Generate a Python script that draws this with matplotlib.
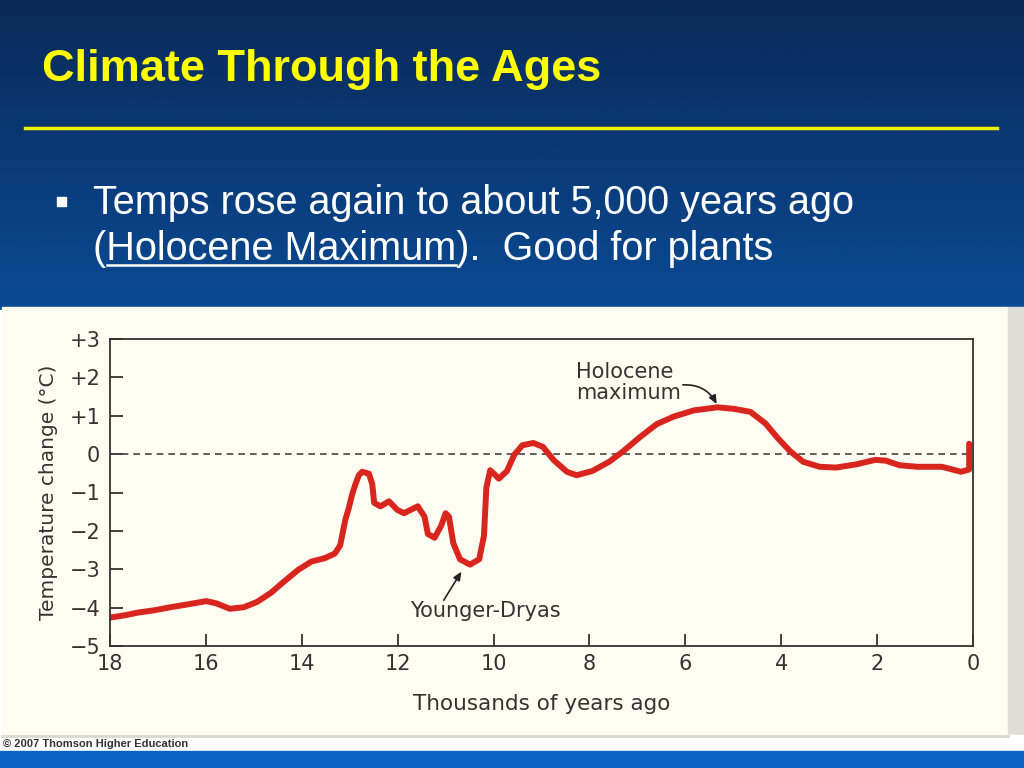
import numpy as np
import matplotlib.pyplot as plt
from matplotlib.patches import Rectangle
from matplotlib.colors import LinearSegmentedColormap

# curve (thousands of years ago, degC change)
kyr_ago = [18.00, 17.69, 17.42, 17.08, 16.74, 16.40, 15.99, 15.78, 15.50, 15.21,
           14.93, 14.64, 14.36, 14.08, 13.80, 13.52, 13.31, 13.20, 13.09, 13.02,
           12.95, 12.88, 12.81, 12.74, 12.60, 12.53, 12.49, 12.36, 12.18, 12.01,
           11.87, 11.58, 11.44, 11.37, 11.23, 11.09, 11.00, 10.93, 10.84, 10.70,
           10.49, 10.30, 10.20, 10.15, 10.07, 9.96, 9.89, 9.72, 9.57, 9.40,
           9.17, 8.97, 8.75, 8.47, 8.27, 7.94, 7.59, 7.30, 6.95, 6.60,
           6.24, 5.82, 5.33, 4.99, 4.64, 4.33, 4.06, 3.81, 3.54, 3.20,
           2.86, 2.45, 2.04, 1.82, 1.53, 1.16, 0.65, 0.43, 0.25, 0.08,
           0.08]
temp_change = [-4.26, -4.20, -4.13, -4.07, -3.99, -3.92, -3.83, -3.89, -4.03, -3.99,
               -3.85, -3.61, -3.31, -3.02, -2.80, -2.71, -2.59, -2.38, -1.70, -1.41,
               -1.05, -0.78, -0.55, -0.46, -0.51, -0.78, -1.27, -1.36, -1.23, -1.45,
               -1.54, -1.36, -1.63, -2.08, -2.18, -1.86, -1.54, -1.63, -2.32, -2.74,
               -2.88, -2.74, -2.13, -0.87, -0.42, -0.55, -0.64, -0.44, -0.02, 0.23,
               0.29, 0.19, -0.15, -0.46, -0.55, -0.44, -0.20, 0.07, 0.44, 0.78,
               0.98, 1.14, 1.22, 1.18, 1.10, 0.80, 0.40, 0.07, -0.20, -0.33,
               -0.35, -0.27, -0.15, -0.17, -0.29, -0.33, -0.33, -0.40, -0.46, -0.40,
               0.27]

xticks = [18, 16, 14, 12, 10, 8, 6, 4, 2, 0]
yticks = [-5, -4, -3, -2, -1, 0, 1, 2, 3]
ytick_labels = ['\u22125', '\u22124', '\u22123', '\u22122', '\u22121', '0', '+1', '+2', '+3']

fig = plt.figure(figsize=(10.24, 7.68), dpi=100)

# slide background, drawn in pixel units
bg = fig.add_axes([0, 0, 1, 1])
grad = np.linspace(0, 1, 256).reshape(-1, 1)
cmap = LinearSegmentedColormap.from_list('slide', ['#0a2a58', '#0a4a94'])
bg.imshow(grad, cmap=cmap, extent=[0, 1024, 310, 0], aspect='auto')
bg.set_xlim(0, 1024)
bg.set_ylim(768, 0)
bg.axis('off')

bg.text(42, 81, 'Climate Through the Ages', color='#ffff00', fontsize=32.5,
        fontweight='bold', family='Liberation Sans', va='baseline')
bg.plot([25, 997], [128, 128], color='#f0f000', lw=2.5)

bg.add_patch(Rectangle((57, 197), 9, 9, color='white'))
bg.text(93, 214, 'Temps rose again to about 5,000 years ago', color='white',
        fontsize=28.5, family='Liberation Sans', va='baseline')
line2 = bg.text(93, 260, '(Holocene Maximum).  Good for plants', color='white',
                fontsize=28.5, family='Liberation Sans', va='baseline')

# underline under "Holocene Maximum"
fig.canvas.draw()
r = fig.canvas.get_renderer()
tmp1 = bg.text(93, 260, '(', fontsize=28.5, family='Liberation Sans', alpha=0)
tmp2 = bg.text(93, 260, '(Holocene Maximum', fontsize=28.5, family='Liberation Sans', alpha=0)
x0 = tmp1.get_window_extent(r).x1 + 1
x1 = tmp2.get_window_extent(r).x1
tmp1.remove()
tmp2.remove()
bg.plot([x0, x1], [265, 265], color='white', lw=1.8)

# picture panel
bg.add_patch(Rectangle((2, 307), 1006, 428, color='#fffdf2'))
bg.add_patch(Rectangle((1008, 307), 16, 430, color='#deded6'))
bg.add_patch(Rectangle((0, 735), 1024, 16, color='white'))
bg.plot([2, 1008], [735.5, 735.5], color='#d9d9cf', lw=2)
bg.add_patch(Rectangle((0, 751), 1024, 17, color='#0b63c6'))
bg.text(3, 744, '\u00a9 2007 Thomson Higher Education', fontsize=8, color='#333333',
        family='Liberation Sans', fontweight='bold', va='center')

# chart
ax = fig.add_axes([110 / 1024, 1 - 646 / 768, 863 / 1024, 307 / 768])
ax.set_facecolor('none')
ax.axhline(0, color='#444444', lw=1.2, ls=(0, (4, 3)))
ax.plot(kyr_ago, temp_change, color='#d8261f', lw=4.3,
        solid_joinstyle='round', solid_capstyle='round')
ax.set_xlim(18, 0)
ax.set_ylim(-5, 3)
ax.set_xticks(xticks)
ax.set_yticks(yticks)
ax.set_yticklabels(ytick_labels)
ax.tick_params(direction='in', length=9, width=1.3, colors='#333333',
               labelsize=15)
ax.tick_params(axis='y', pad=7)
ax.tick_params(axis='x', pad=6)
for s in ax.spines.values():
    s.set_color('#333333')
    s.set_linewidth(1.3)

ax.set_xlabel('Thousands of years ago', fontsize=15.5, color='#333333', labelpad=14)
ax.set_ylabel('Temperature change (\u00b0C)', fontsize=14.5, color='#333333', labelpad=8)

ax.text(8.28, 1.87, 'Holocene\nmaximum', fontsize=15, color='#333333',
        va='center', ha='left', linespacing=1.05)
ax.annotate('', xy=(5.32, 1.24), xytext=(6.11, 1.8),
            arrowprops=dict(arrowstyle='-|>,head_length=0.5,head_width=0.22',
                            color='#222222', lw=1.2,
                            connectionstyle='arc3,rad=-0.35'))
ax.text(10.18, -4.09, 'Younger-Dryas', fontsize=15, color='#333333',
        va='center', ha='center')
ax.annotate('', xy=(10.64, -3.0), xytext=(11.07, -3.87),
            arrowprops=dict(arrowstyle='-|>,head_length=0.5,head_width=0.22',
                            color='#222222', lw=1.2))

fig.savefig('out.png', dpi=100)
